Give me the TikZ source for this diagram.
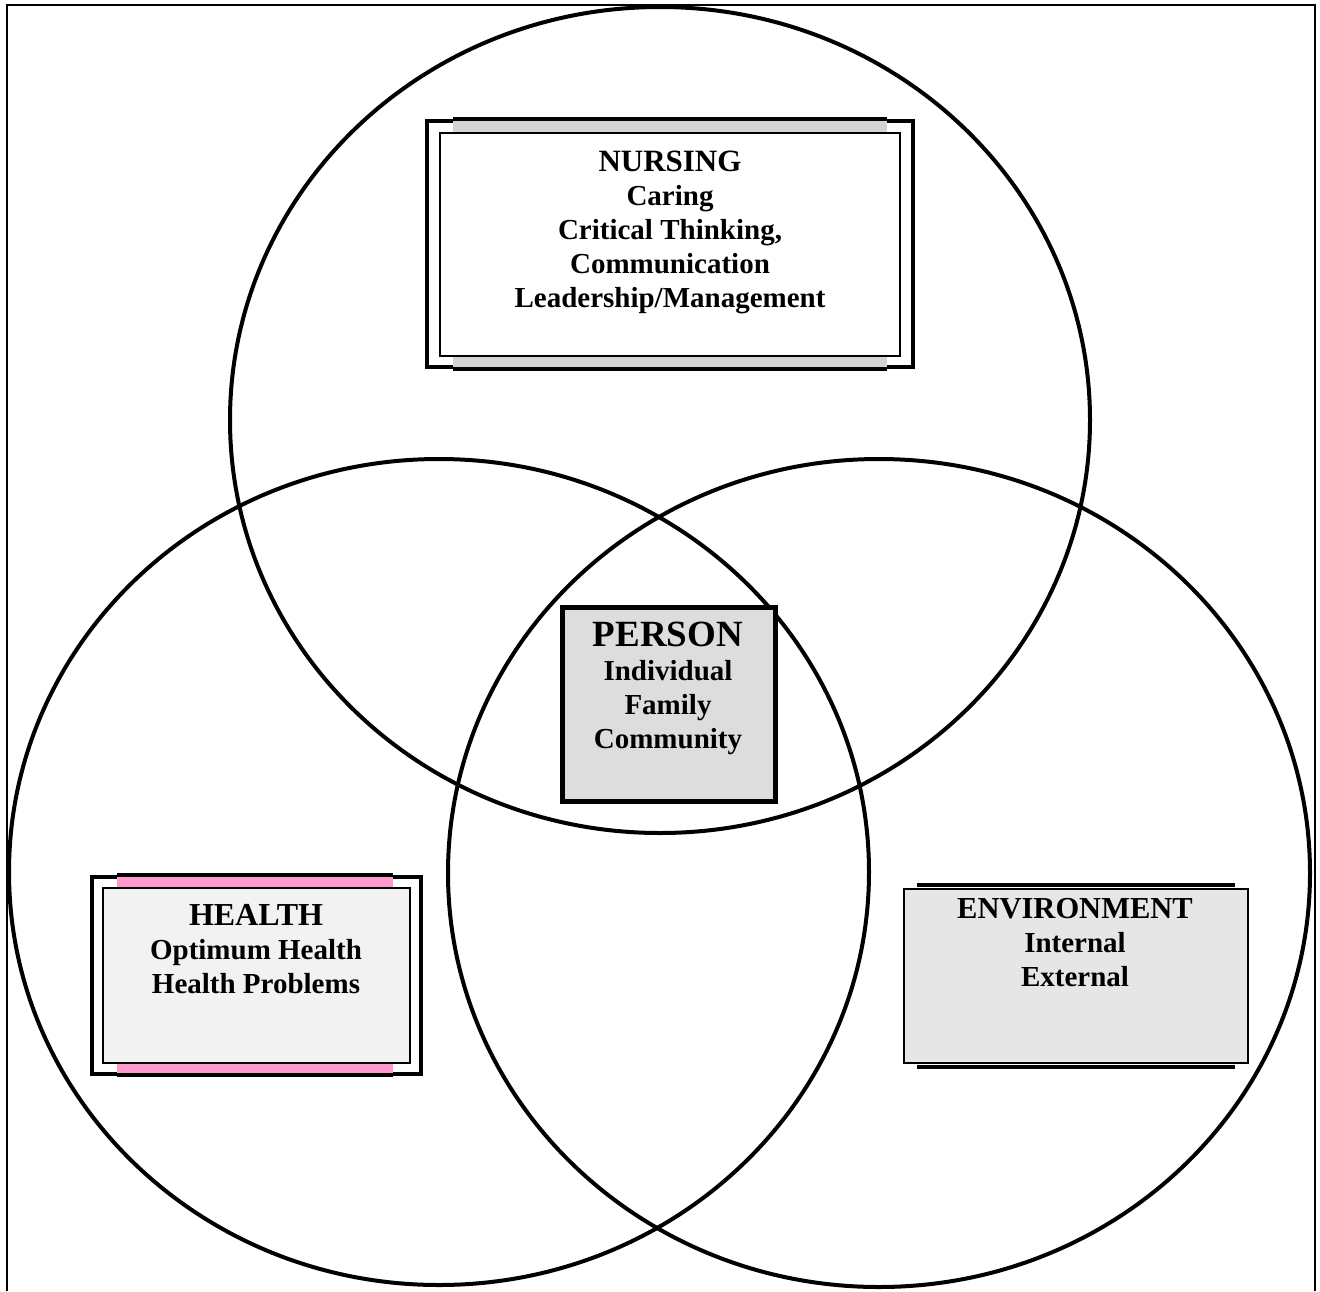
\documentclass[tikz,border=0pt]{standalone}
\usepackage{fontspec}
\setmainfont{Liberation Serif}
\definecolor{barpink}{HTML}{FF99CC}
\definecolor{bargray}{HTML}{D4D4D4}
\definecolor{healthfill}{HTML}{F2F2F2}
\definecolor{envfill}{HTML}{E6E6E6}
\definecolor{personfill}{HTML}{DDDDDD}
\tikzset{
	ring/.style={line width=4pt},
	boxtext/.style={align=center,anchor=north,inner sep=0pt,font=\bfseries\fontsize{29}{34}\selectfont},
}
\begin{document}
\begin{tikzpicture}[x=1pt,y=-1pt]
		\useasboundingbox (0,0) rectangle (1320,1291);
		\draw[line width=2pt] (7,1291) -- (7,5) -- (1315,5) -- (1315,1291);
		\draw[ring] (660,420) ellipse (430pt and 413pt);
		\draw[ring] (439,872) ellipse (430pt and 413pt);
		\draw[ring] (879,873) ellipse (431pt and 414pt);
		% nursing
		\draw[line width=4pt,fill=white] (427,121) rectangle (913,367);
		\fill[bargray] (453,120) rectangle (887,368);
		\draw[line width=4pt] (453,119) -- (887,119) (453,369) -- (887,369);
		\draw[line width=2.5pt,fill=white] (440,133) rectangle (900,356);
		\node[boxtext] (nursing) at (670,151) {{\fontsize{31}{34}\selectfont NURSING}\\Caring\\Critical Thinking,\\Communication\\Leadership/Management};
		% health
		\draw[line width=4pt,fill=white] (92,877) rectangle (421,1074);
		\fill[barpink] (117,876) rectangle (393,1074);
		\draw[line width=4pt] (117,875) -- (393,875) (117,1075) -- (393,1075);
		\draw[line width=2.5pt,fill=healthfill] (103,888) rectangle (410,1063);
		\node[boxtext] (health) at (256,904) {{\fontsize{32}{34}\selectfont HEALTH}\\Optimum Health\\Health Problems};
		% environment
		\draw[line width=3.5pt] (917,885) -- (1235,885) (917,1067) -- (1235,1067);
		\draw[line width=2.5pt,fill=envfill] (904,889) rectangle (1248,1063);
		\node[boxtext] (environment) at (1075,898) {{\fontsize{30.5}{34}\selectfont ENVIRONMENT}\\Internal\\External};
		% person
		\draw[line width=5pt,fill=personfill] (562,607) rectangle (775,801);
		\node[boxtext] (person) at (668,622) {{\fontsize{37}{34}\selectfont PERSON}\\Individual\\Family\\Community};
	\end{tikzpicture}
\end{document}
